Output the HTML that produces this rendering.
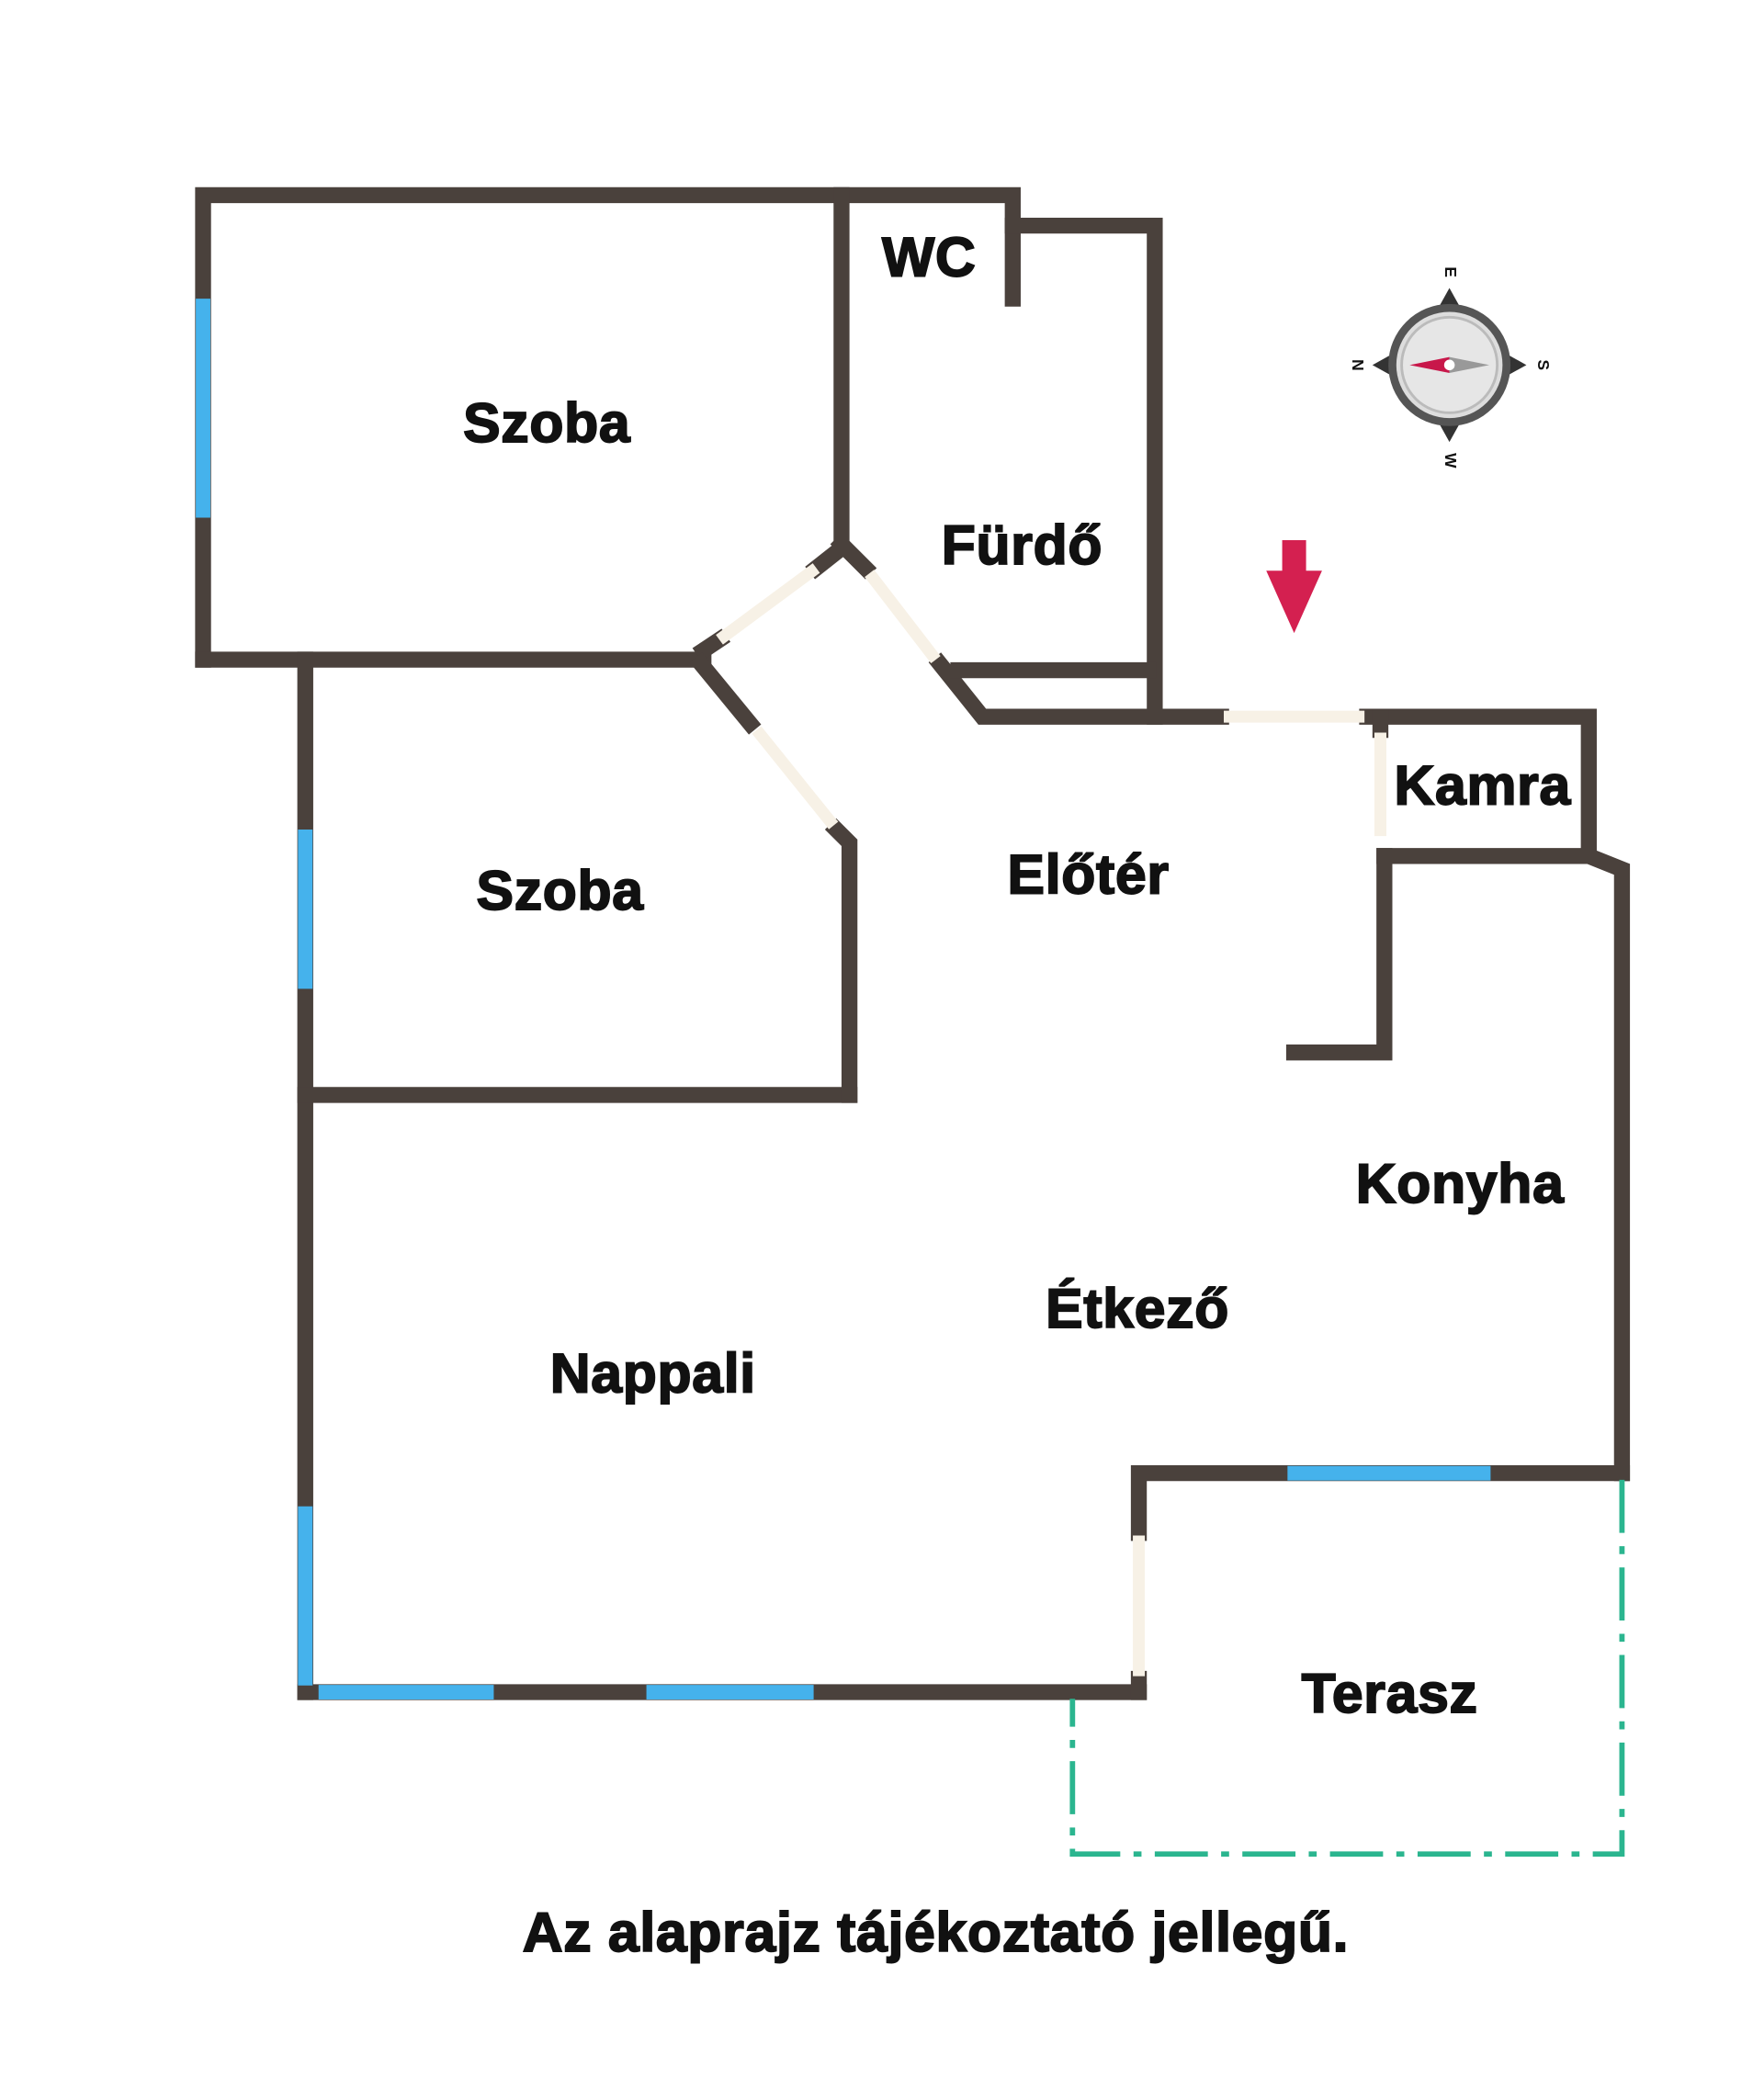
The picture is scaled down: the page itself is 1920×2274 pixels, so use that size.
<!DOCTYPE html>
<html><head><meta charset="utf-8"><style>
html,body{margin:0;padding:0;background:#fff;}
svg{display:block;}
text{font-family:"Liberation Sans",Arial,sans-serif;font-weight:bold;fill:#111;text-anchor:middle;dominant-baseline:middle;}
.lbl text{stroke:#111;stroke-width:1.3;letter-spacing:0.5px;}
</style></head><body>
<svg width="1920" height="2274" viewBox="0 0 1329 1574" xmlns="http://www.w3.org/2000/svg">
<rect width="1329" height="1574" fill="#fff"/>
<g stroke="#4a413c" stroke-width="12" stroke-linecap="square" fill="none">
<polyline points="153,497 153,147 763,147 763,225"/>
<polyline points="763,170 870,170 870,540"/>
<line x1="634" y1="147" x2="634" y2="410"/>
<line x1="153" y1="497" x2="530" y2="497"/>
<line x1="530" y1="490" x2="542" y2="482"/>
<line x1="615" y1="428" x2="634" y2="413"/>
<line x1="634" y1="410" x2="652" y2="428"/>
<polyline points="708,500 740,540 920,540"/>
<line x1="722" y1="505" x2="865" y2="505"/>
<polyline points="1030,540 1197,540 1197,645"/>
<line x1="1040" y1="540" x2="1040" y2="550"/>
<polyline points="1043,645 1197,645 1222,655 1222,1110"/>
<polyline points="1043,645 1043,793 975,793"/>
<line x1="230" y1="497" x2="230" y2="1275"/>
<line x1="230" y1="825" x2="640" y2="825"/>
<polyline points="640,825 640,635 630,625"/>
<line x1="528" y1="500" x2="565" y2="545"/>
<line x1="230" y1="1275" x2="858" y2="1275"/>
<polyline points="858,1155 858,1110 1222,1110"/>
<line x1="858" y1="1265" x2="858" y2="1275"/>
</g>
<g stroke="#f7f1e6" stroke-width="9" fill="none">
<line x1="542" y1="482" x2="615" y2="428"/>
<line x1="655" y1="432" x2="705" y2="497"/>
<line x1="570" y1="550" x2="628" y2="622"/>
<line x1="922" y1="540" x2="1028" y2="540"/>
<line x1="1040" y1="552" x2="1040" y2="630"/>
<line x1="858" y1="1157" x2="858" y2="1263"/>
</g>
<g stroke="#45b2ec" stroke-width="11" fill="none">
<line x1="153" y1="225" x2="153" y2="390"/>
<line x1="230" y1="625" x2="230" y2="745"/>
<line x1="230" y1="1135" x2="230" y2="1270"/>
<line x1="240" y1="1275" x2="372" y2="1275"/>
<line x1="487" y1="1275" x2="613" y2="1275"/>
<line x1="970" y1="1110" x2="1123" y2="1110"/>
</g>
<g stroke="#2bb58f" stroke-width="4" fill="none" stroke-dasharray="40,10,6,10">
<polyline points="1222,1115 1222,1397 808,1397 808,1280"/>
</g>
<g transform="translate(1092,275)">
<polygon points="0,-58 -10,-40 10,-40" fill="#333"/>
<polygon points="0,58 -10,40 10,40" fill="#333"/>
<polygon points="-58,0 -40,-10 -40,10" fill="#333"/>
<polygon points="58,0 40,-10 40,10" fill="#333"/>
<circle r="46" fill="#555"/>
<circle r="40" fill="#ddd"/>
<circle r="36" fill="#e6e6e6" stroke="#bbb" stroke-width="2"/>
<polygon points="-30,0 0,-6 0,6" fill="#c8174a"/>
<polygon points="30,0 0,-6 0,6" fill="#999"/>
<circle r="4" fill="#fff"/>
<text x="0" y="-70" style="font-size:12px" transform="rotate(90 0 -70)">E</text>
<text x="0" y="72" style="font-size:12px" transform="rotate(90 0 72)">W</text>
<text x="-70" y="0" style="font-size:12px" transform="rotate(90 -70 0)">N</text>
<text x="70" y="0" style="font-size:12px" transform="rotate(90 70 0)">S</text>
</g>
<polygon points="966,407 984,407 984,430 996,430 975,477 954,430 966,430" fill="#d42050"/>
<g class="lbl" style="font-size:42px">
<text x="412" y="322">Szoba</text>
<text x="700" y="197">WC</text>
<text x="770" y="414">Fürdő</text>
<text x="422" y="674">Szoba</text>
<text x="820" y="662">Előtér</text>
<text x="1117" y="595">Kamra</text>
<text x="1100" y="895">Konyha</text>
<text x="857" y="989">Étkező</text>
<text x="492" y="1038">Nappali</text>
<text x="1047" y="1279">Terasz</text>
<text x="705" y="1459">Az alaprajz tájékoztató jellegű.</text>
</g>
</svg>
</body></html>
